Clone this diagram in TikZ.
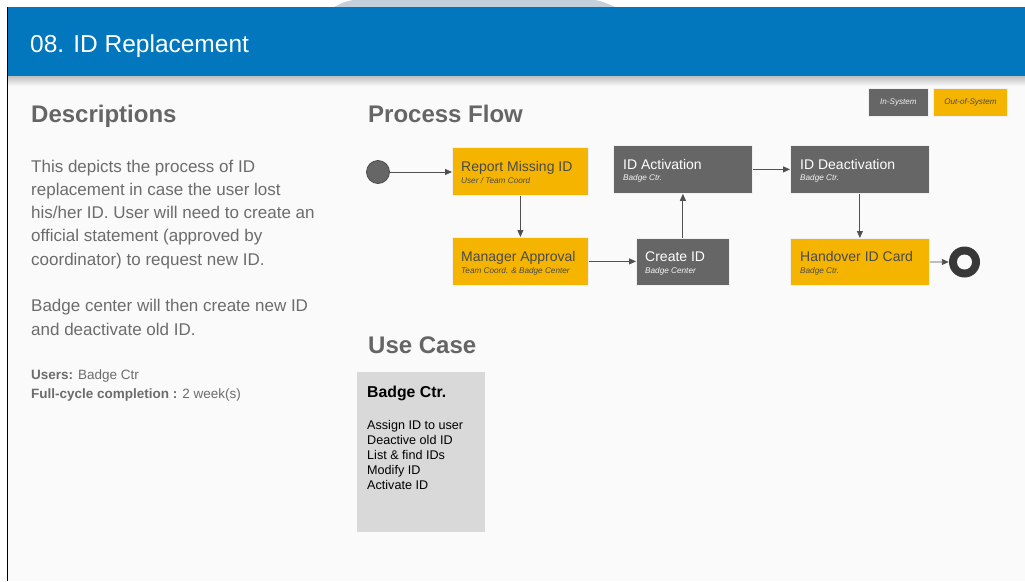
\documentclass[tikz,border=0pt]{standalone}
\usepackage{fontspec}
\setmainfont{Liberation Sans}
\usetikzlibrary{arrows.meta,calc}

\definecolor{banner}{HTML}{0277BD}
\definecolor{capcol}{HTML}{C3CFDA}
\definecolor{pagebg}{HTML}{FAFAFA}
\definecolor{amber}{HTML}{F4B400}
\definecolor{slate}{HTML}{666666}
\definecolor{headgray}{HTML}{656565}
\definecolor{bodygray}{HTML}{6C6C6C}
\definecolor{darktxt}{HTML}{4A4A4A}
\definecolor{ucgray}{HTML}{D9D9D9}
\definecolor{arrowcol}{HTML}{505050}
\definecolor{endcol}{HTML}{383838}

\tikzset{
  procbox/.style={draw=white!88!gray, line width=0.8pt, minimum width=136pt,
    minimum height=48pt, anchor=north west, inner sep=0pt},
  onamber/.style={fill=amber},
  onslate/.style={fill=slate},
  ptitle/.style={anchor=base west, inner sep=0pt, font=\fontsize{14}{16}\selectfont},
  psub/.style={anchor=base west, inner sep=0pt, font=\fontsize{8.2}{10}\selectfont\itshape},
  heading/.style={anchor=base west, inner sep=0pt, text=headgray,
    font=\fontsize{24}{28}\selectfont\bfseries},
  desc/.style={anchor=base west, inner sep=0pt, text=bodygray,
    font=\fontsize{17}{20}\selectfont},
  meta/.style={anchor=base west, inner sep=0pt, text=bodygray,
    font=\fontsize{13.5}{16}\selectfont},
  ucitem/.style={anchor=base west, inner sep=0pt, text=black,
    font=\fontsize{12.6}{15}\selectfont},
  legendbox/.style={draw=white!88!gray, line width=0.8pt, minimum height=28pt,
    anchor=north west, inner sep=0pt, font=\fontsize{8.1}{10}\selectfont\itshape},
  flow/.style={draw=arrowcol, line width=0.9pt, -{Triangle[length=7pt,width=6pt]}},
}

\begin{document}
\begin{tikzpicture}[x=1pt,y=-1pt]
\useasboundingbox (0,0) rectangle (1025,581);

% page background
\fill[white] (0,0) rectangle (1025,581);
\fill[pagebg] (7,75) rectangle (1025,581);

% cap shape peeking above the banner
\fill[capcol] (333,7.5) .. controls (342,3) and (348,0) .. (356,0) -- (592,0)
  .. controls (600,0) and (606,3) .. (616,7.5) -- cycle;

% banner with its drop shadow
\shade[top color=black!28, bottom color=pagebg] (7,75) rectangle (1025,86);
\fill[banner] (7,7) rectangle (1025,76);
\draw[black, line width=1.4pt] (7.5,7) -- (7.5,581);
\node[anchor=base west, inner sep=0pt, text=white, font=\fontsize{24.5}{28}\selectfont]
  (title) at (30,52) {08. ID Replacement};

% left column: description
\node[heading] (deschead) at (31,122) {Descriptions};
\node[desc] (d1) at (31,172) {This depicts the process of ID};
\node[desc] (d2) at (31,195.3) {replacement in case the user lost};
\node[desc] (d3) at (31,218.6) {his/her ID. User will need to create an};
\node[desc] (d4) at (31,241.9) {official statement (approved by};
\node[desc] (d5) at (31,265.2) {coordinator) to request new ID.};
\node[desc] (d6) at (31,311.8) {Badge center will then create new ID};
\node[desc] (d7) at (31,335.1) {and deactivate old ID.};
\node[meta] (users) at (31,379) {\textbf{Users:} Badge Ctr};
\node[meta] (cycle) at (31,398) {\textbf{Full-cycle completion :} 2 week(s)};

% legend
\node[legendbox, onslate, minimum width=60pt, text=white!88!gray] (insys) at (868,88) {In-System};
\node[legendbox, onamber, minimum width=74pt, text=darktxt] (outsys) at (933,88) {Out-of-System};

% process flow
\node[heading] (flowhead) at (368,122) {Process Flow};

\node[circle, fill=slate, draw=black!70, line width=0.8pt, minimum size=23pt, inner sep=0pt]
  (start) at (378,172) {};
\node[circle, fill=endcol, minimum size=31pt, inner sep=0pt] (finish) at (964.5,262) {};
\fill[pagebg] (finish.center) circle (7.5);

\node[procbox, onamber] (rep) at (452,147) {};
\node[ptitle, text=darktxt] (repT) at ($(rep.north west)+(9,24)$) {Report Missing ID};
\node[psub, text=darktxt] (repS) at ($(rep.north west)+(9,36)$) {User / Team Coord};

\node[procbox, onamber] (mgr) at (452,237) {};
\node[ptitle, text=darktxt] (mgrT) at ($(mgr.north west)+(9,24)$) {Manager Approval};
\node[psub, text=darktxt] (mgrS) at ($(mgr.north west)+(9,36)$) {Team Coord. \& Badge Center};

\node[procbox, onslate, minimum width=93pt, minimum height=47pt] (cre) at (636,238) {};
\node[ptitle, text=white] (creT) at ($(cre.north west)+(9,23)$) {Create ID};
\node[psub, text=white!92!gray] (creS) at ($(cre.north west)+(9,35)$) {Badge Center};

\node[procbox, onslate, minimum width=139pt] (act) at (613,145) {};
\node[ptitle, text=white] (actT) at ($(act.north west)+(10,24)$) {ID Activation};
\node[psub, text=white!92!gray] (actS) at ($(act.north west)+(10,35)$) {Badge Ctr.};

\node[procbox, onslate, minimum width=139pt] (deact) at (790,145) {};
\node[ptitle, text=white] (deactT) at ($(deact.north west)+(10,24)$) {ID Deactivation};
\node[psub, text=white!92!gray] (deactS) at ($(deact.north west)+(10,35)$) {Badge Ctr.};

\node[procbox, onamber, minimum width=139pt, minimum height=47pt] (hand) at (790,238) {};
\node[ptitle, text=darktxt] (handT) at ($(hand.north west)+(10,23)$) {Handover ID Card};
\node[psub, text=darktxt] (handS) at ($(hand.north west)+(10,35)$) {Badge Ctr.};

\draw[flow] (start) -- (start -| rep.west);
\draw[flow] (rep) -- (mgr);
\draw[flow] (mgr) -- (mgr -| cre.west);
\draw[flow] (cre) -- (act);
\draw[flow] (act) -- (deact);
\draw[flow] (deact) -- (hand);
\draw[flow] (hand) -- (finish);

% use case
\node[heading] (ucbhead) at (368,353) {Use Case};
\node[fill=ucgray, minimum width=128pt, minimum height=160pt, anchor=north west, inner sep=0pt]
  (uc) at (357,372) {};
\node[anchor=base west, inner sep=0pt, text=black, font=\fontsize{15.8}{18}\selectfont\bfseries]
  (ucT) at ($(uc.north west)+(10,25)$) {Badge Ctr.};
\node[ucitem] (u1) at ($(uc.north west)+(10,57)$) {Assign ID to user};
\node[ucitem] (u2) at ($(uc.north west)+(10,72)$) {Deactive old ID};
\node[ucitem] (u3) at ($(uc.north west)+(10,87)$) {List \& find IDs};
\node[ucitem] (u4) at ($(uc.north west)+(10,102)$) {Modify ID};
\node[ucitem] (u5) at ($(uc.north west)+(10,117)$) {Activate ID};
\end{tikzpicture}
\end{document}
